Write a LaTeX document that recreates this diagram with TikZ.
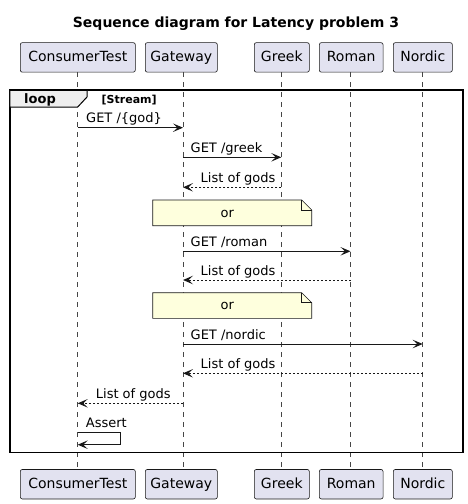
\documentclass[tikz,border=0pt]{standalone}
\usepackage{fontspec}
\setmainfont{DejaVu Sans}
\usetikzlibrary{arrows.meta}
\definecolor{lineC}{HTML}{181818}
\definecolor{partC}{HTML}{E2E2F0}
\definecolor{noteC}{HTML}{FEFFDD}
\definecolor{tabC}{HTML}{EEEEEE}
\tikzset{
  part/.style={draw=lineC, fill=partC, line width=0.6pt, rounded corners=2pt,
    minimum height=29.5pt, inner sep=0pt, font=\fontsize{14}{16}\selectfont, text height=10.5pt, text depth=2.5pt},
  lifeline/.style={draw=lineC!80, line width=0.5pt, dash pattern=on 5pt off 5pt},
  msg/.style={draw=lineC, line width=1pt, -{Stealth[length=10pt,width=8.5pt,inset=4.5pt]}},
  ret/.style={msg, dash pattern=on 2pt off 2pt},
  lbl/.style={anchor=base west, inner sep=0pt, font=\fontsize{13}{15}\selectfont},
  notebox/.style={draw=lineC, fill=noteC, line width=0.6pt},
}
\begin{document}
\begin{tikzpicture}[x=1pt,y=-1pt]
\useasboundingbox (0,0) rectangle (467,504);
% title
\node[font=\bfseries\fontsize{14}{16}\selectfont, anchor=base] (title) at (236,27.5) {Sequence diagram for Latency problem 3};
% participants top
\node[part, minimum width=115pt] (cT) at (77.8,57.4) {ConsumerTest};
\node[part, minimum width=72pt] (gT) at (181.3,57.4) {Gateway};
\node[part, minimum width=55pt] (kT) at (281.8,57.4) {Greek};
\node[part, minimum width=63.7pt] (rT) at (351.2,57.4) {Roman};
\node[part, minimum width=59pt] (nT) at (422.8,57.4) {Nordic};
% participants bottom
\node[part, minimum width=115pt] (cB) at (77.8,484.2) {ConsumerTest};
\node[part, minimum width=72pt] (gB) at (181.3,484.2) {Gateway};
\node[part, minimum width=55pt] (kB) at (281.8,484.2) {Greek};
\node[part, minimum width=63.7pt] (rB) at (351.2,484.2) {Roman};
\node[part, minimum width=59pt] (nB) at (422.8,484.2) {Nordic};
% lifeline x positions
\def\xc{77.7}\def\xg{183}\def\xk{281.3}\def\xr{350.5}\def\xn{422.7}
\draw[lifeline] (\xc,72.2) -- (\xc,469.3);
\draw[lifeline] (\xg,72.2) -- (\xg,469.3);
\draw[lifeline] (\xk,72.2) -- (\xk,469.3);
\draw[lifeline] (\xr,72.2) -- (\xr,469.3);
\draw[lifeline] (\xn,72.2) -- (\xn,469.3);
% loop frame
\draw[line width=1.5pt, draw=black] (9.8,90.2) rectangle (462.9,452.6);
\filldraw[fill=tabC, draw=black, line width=1pt] (9.8,90.2) -- (87,90.2) -- (87,97) -- (77.7,107) -- (9.8,107) -- cycle;
\draw[line width=1.5pt, draw=black] (9.8,90.2) -- (87,90.2);
\node[anchor=base, inner sep=0pt, font=\bfseries\fontsize{13}{15}\selectfont] (loopl) at (40,103.6) {loop};
\node[anchor=base west, inner sep=0pt, font=\bfseries\fontsize{11}{13}\selectfont] (loopg) at (101.5,103.3) {[Stream]};
% messages
\coordinate (m1a) at (\xc,127.7); \coordinate (m1b) at (\xg,127.7);
\draw[msg] (m1a) -- (m1b);
\node[lbl] (l1) at (\xc+8.3,122.9) {GET /\{god\}};
\coordinate (m2a) at (\xg,157.3); \coordinate (m2b) at (\xk,157.3);
\draw[msg] (m2a) -- (m2b);
\node[lbl] (l2) at (\xg+7.5,152.5) {GET /greek};
\coordinate (m3a) at (\xk,187.3); \coordinate (m3b) at (\xg,187.3);
\draw[ret] (m3a) -- (m3b);
\node[lbl] (l3) at (\xg+17.5,182.5) {List of gods};
% note 1
\filldraw[notebox] (152.7,200) -- (301.7,200) -- (311.7,210) -- (311.7,225.7) -- (152.7,225.7) -- cycle;
\draw[lineC, line width=0.6pt] (301.7,200) -- (301.7,210) -- (311.7,210);
\node[anchor=base, inner sep=0pt, font=\fontsize{13}{15}\selectfont] (n1) at (227.3,217) {or};
\coordinate (m4a) at (\xg,251.3); \coordinate (m4b) at (\xr,251.3);
\draw[msg] (m4a) -- (m4b);
\node[lbl] (l4) at (\xg+7.5,246.5) {GET /roman};
\coordinate (m5a) at (\xr,280); \coordinate (m5b) at (\xg,280);
\draw[ret] (m5a) -- (m5b);
\node[lbl] (l5) at (\xg+17.5,275.2) {List of gods};
% note 2
\filldraw[notebox] (152.7,292.7) -- (301.7,292.7) -- (311.7,302.7) -- (311.7,318.3) -- (152.7,318.3) -- cycle;
\draw[lineC, line width=0.6pt] (301.7,292.7) -- (301.7,302.7) -- (311.7,302.7);
\node[anchor=base, inner sep=0pt, font=\fontsize{13}{15}\selectfont] (n2) at (227.3,309.7) {or};
\coordinate (m6a) at (\xg,344); \coordinate (m6b) at (\xn,344);
\draw[msg] (m6a) -- (m6b);
\node[lbl] (l6) at (\xg+7.5,339.2) {GET /nordic};
\coordinate (m7a) at (\xn,373.3); \coordinate (m7b) at (\xg,373.3);
\draw[ret] (m7a) -- (m7b);
\node[lbl] (l7) at (\xg+17.5,368.5) {List of gods};
\coordinate (m8a) at (\xg,403.3); \coordinate (m8b) at (\xc,403.3);
\draw[ret] (m8a) -- (m8b);
\node[lbl] (l8) at (\xc+18,398.5) {List of gods};
% self message
\coordinate (m9a) at (\xc,432.7); \coordinate (m9b) at (\xc,444.7);
\draw[msg] (m9a) -- (120,432.7) -- (120,444.7) -- (m9b);
\node[lbl] (l9) at (\xc+8,427.9) {Assert};
\end{tikzpicture}
\end{document}
